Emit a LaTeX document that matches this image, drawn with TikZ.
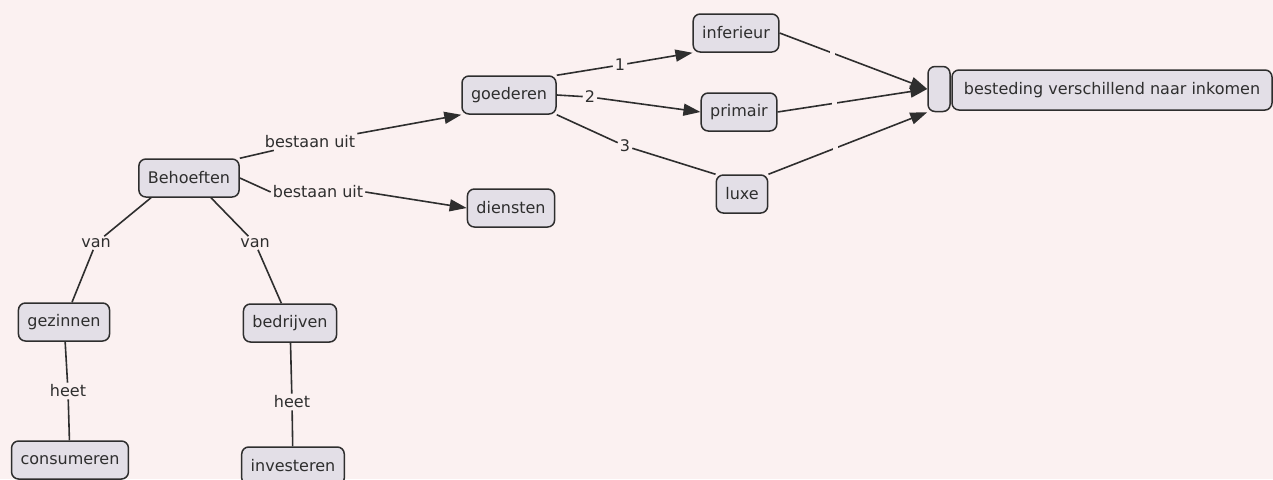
\documentclass[tikz,border=0pt]{standalone}
\usepackage{fontspec}
\setmainfont{DejaVu Sans}
\usetikzlibrary{arrows.meta}
\definecolor{bg}{HTML}{FBF1F1}
\definecolor{boxfill}{HTML}{E3DFE7}
\definecolor{ink}{HTML}{2E2E2E}
\tikzset{
  concept/.style={draw=ink, line width=1.5pt, fill=boxfill, rounded corners=7pt,
    text=ink, font=\fontsize{16}{19}\selectfont, inner xsep=9pt, minimum height=38pt},
  lab/.style={text=ink, font=\fontsize{16}{19}\selectfont, inner sep=2pt},
  link/.style={draw=ink, line width=1.6pt},
  arr/.style={link, -{Triangle[length=17pt,width=12pt]}},
  gap/.style={fill=bg, inner sep=0pt, minimum size=5pt}
}
\begin{document}
\begin{tikzpicture}[x=1pt,y=-1pt]
\fill[bg] (0,0) rectangle (1273,479);
\useasboundingbox (0,0) rectangle (1273,479);

% concepts
\node[concept] (beh) at (189,178) {Behoeften};
\node[concept] (goe) at (509,95) {goederen};
\node[concept] (die) at (511,208) {diensten};
\node[concept] (inf) at (736,33) {inferieur};
\node[concept] (pri) at (739,112) {primair};
\node[concept] (lux) at (742,194) {luxe};
\node[concept, minimum width=22pt, minimum height=45pt, inner xsep=0pt] (emp) at (939,89) {};
\node[concept, minimum width=320pt, minimum height=40pt] (bes) at (1112,90) {besteding verschillend naar inkomen};
\node[concept] (gez) at (64,322) {gezinnen};
\node[concept] (bed) at (290,323) {bedrijven};
\node[concept] (con) at (70,460) {consumeren};
\node[concept] (inv) at (293,466) {investeren};

% link labels
\node[lab] (l1) at (310,142) {bestaan uit};
\node[lab] (l2) at (318,192) {bestaan uit};
\node[lab] (v1) at (96,243) {van};
\node[lab] (v2) at (255,243) {van};
\node[lab] (h1) at (68,391) {heet};
\node[lab] (h2) at (292,402) {heet};
\node[lab] (n1) at (620,65) {1};
\node[lab] (n2) at (590,97) {2};
\node[lab] (n3) at (625,146) {3};

% connectors
\draw[link] (beh.north east) -- (l1);
\draw[arr] (l1.north east) -- (goe.south west);
\draw[link] (beh.east) -- (l2.west);
\draw[arr] (l2.east) -- (die.west);
\draw[link] (beh.south) ++(-38,0) coordinate (b1) -- (v1);
\draw[link] (v1) -- (gez);
\draw[link] (beh.south) ++(22,0) coordinate (b2) -- (v2);
\draw[link] (v2) -- (bed);
\draw[link] (gez) -- (h1);
\draw[link] (h1) -- (con);
\draw[link] (bed) -- (h2);
\draw[link] (h2) -- (inv);
\draw[link] (goe.north east) -- (n1);
\draw[arr] (n1) -- (inf.south west);
\draw[link] (goe.east) -- (n2);
\draw[arr] (n2) -- (pri.west);
\draw[link] (goe.south east) -- (n3);
\draw[link] (n3) -- (lux.north west);
\draw[arr] (inf.east) -- node[gap, pos=0.36] {} (emp.west);
\draw[arr] (pri.east) -- node[gap, pos=0.38] {} (emp.west);
\draw[arr] (lux.north east) -- node[gap, pos=0.42] {} (emp.south west);
\end{tikzpicture}
\end{document}
